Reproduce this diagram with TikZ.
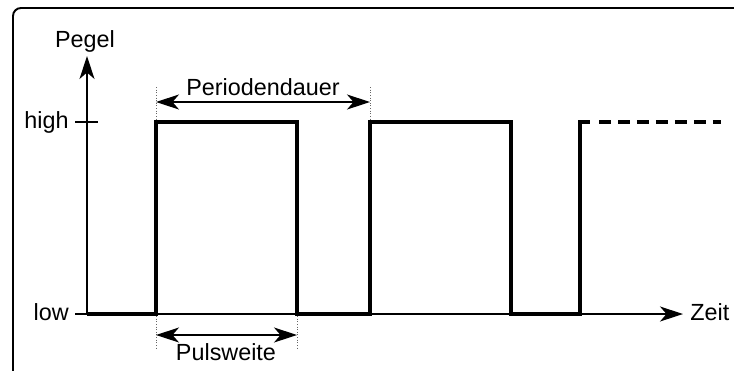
\documentclass[tikz,border=0pt]{standalone}
\usepackage{fontspec}
\setmainfont{Liberation Sans}
\usetikzlibrary{arrows.meta, positioning}

\begin{document}
\begin{tikzpicture}[
    % Global Styles (1 unit = 1 pixel of the layout)
    x=0.02cm, y=-0.02cm,
    font=\fontsize{13.3pt}{15pt}\selectfont,
    >={Stealth[length=0.46cm, width=0.3cm, inset=0.13cm]},
    % Line styles
    axis/.style={line width=0.7pt},
    tick/.style={line width=1pt},
    signal/.style={line width=1.8pt, line join=miter},
    guide/.style={line width=0.5pt, densely dotted, black!60},
    measure/.style={line width=0.7pt, <->},
    frame/.style={line width=1.1pt, rounded corners=0.16cm},
    % Text labels
    label/.style={inner sep=0pt}
]
    \useasboundingbox (0,0) rectangle (734,370);

    % --- Frame ---
    \draw[frame] (13,420) -- (13,8) -- (780,8);

    % --- Axes ---
    \coordinate (O) at (87,314);
    \coordinate (ytip) at (87,56);
    \coordinate (xtip) at (683,314);
    \draw[axis, ->] (O) -- (ytip);
    \draw[axis, ->] (O) -- (xtip);

    \node[label, anchor=base] (pegel) at (85,47) {Pegel};
    \node[label, anchor=base west] (zeit) at (690,320) {Zeit};

    % --- Levels ---
    \coordinate (hi) at (87,122);
    \draw[tick] ([xshift=-0.24cm]hi) -- ([xshift=0.22cm]hi);
    \draw[tick] ([xshift=-0.24cm]O) -- ([xshift=0.22cm]O);
    \node[label, anchor=base east] (high) at (69,128) {high};
    \node[label, anchor=base east] (low) at (69,320) {low};

    % --- Signal ---
    \coordinate (r1) at (156,122);
    \coordinate (f1) at (297,122);
    \coordinate (r2) at (370,122);
    \coordinate (f2) at (511,122);
    \coordinate (r3) at (580,122);
    \draw[signal] (O) -| (r1) -- (f1) |- (O -| r2) -- (r2) -- (f2) |- (O -| r3) -- (r3) -- ++(10,0);
    \draw[signal, dash pattern=on 0.24cm off 0.14cm] (599,122) -- (721,122);

    % --- Periodendauer ---
    \coordinate (pd1) at (156,102);
    \coordinate (pd2) at (370,102);
    \draw[guide] ([yshift=0.3cm]pd1) -- ([yshift=-0.36cm]pd1);
    \draw[guide] ([yshift=0.3cm]pd2) -- ([yshift=-0.36cm]pd2);
    \draw[measure] (pd1) -- (pd2);
    \node[label, anchor=base] (period) at (263,95) {Periodendauer};

    % --- Pulsweite ---
    \coordinate (pw1) at (156,335);
    \coordinate (pw2) at (297,335);
    \draw[guide] ([yshift=0.38cm]pw1) -- ([yshift=-0.3cm]pw1);
    \draw[guide] ([yshift=0.38cm]pw2) -- ([yshift=-0.3cm]pw2);
    \draw[measure] (pw1) -- (pw2);
    \node[label, anchor=base] (puls) at (226,360) {Pulsweite};

\end{tikzpicture}
\end{document}
